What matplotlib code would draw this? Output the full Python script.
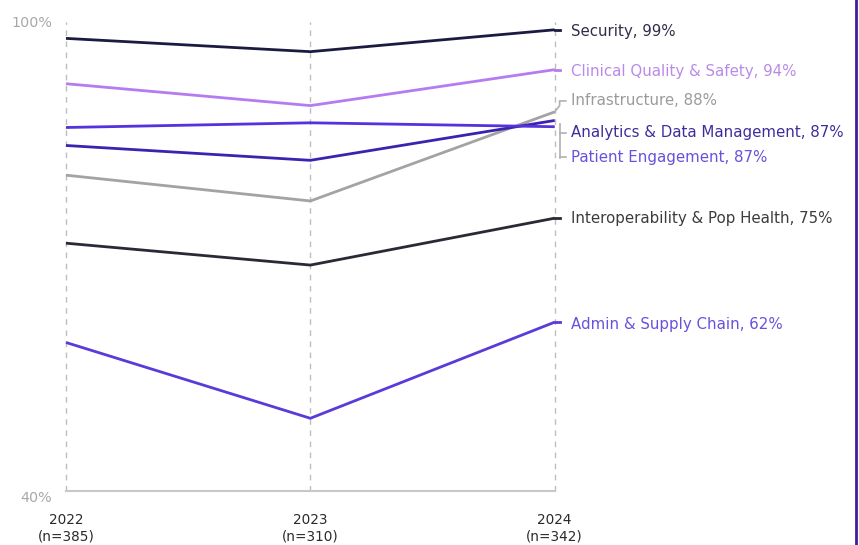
import matplotlib.pyplot as plt
from matplotlib.lines import Line2D

years = ["2022\n(n=385)", "2023\n(n=310)", "2024\n(n=342)"]
names = ["Security", "Clinical Quality & Safety", "Infrastructure",
         "Analytics & Data Management", "Patient Engagement",
         "Interoperability & Pop Health", "Admin & Supply Chain"]
security = [97.9, 96.2, 99.0]
clinical = [92.1, 89.3, 93.9]
infrastructure = [80.4, 77.1, 88.5]
analytics = [84.2, 82.3, 87.4]
patient = [86.5, 87.1, 86.6]
interop = [71.7, 68.9, 74.9]
admin = [59.0, 49.3, 61.6]
series = [security, clinical, infrastructure, analytics, patient, interop, admin]

line_colors = ["#1b1b42", "#b47cf0", "#a3a3a3", "#3b22b0", "#5432dc", "#2a2a36", "#5a3ad8"]
text_colors = ["#2e2e4a", "#b98be8", "#9b9b9b", "#3e2e9c", "#6a50dc", "#3c3c3c", "#6a50dc"]
# label heights on the right, spread apart where lines bunch up
label_y = [98.8, 93.7, 89.9, 85.8, 82.7, 74.9, 61.3]

plt.rcParams['font.family'] = ['DejaVu Sans']

fig = plt.figure(figsize=(8.59, 5.45), dpi=100)
ax = fig.add_axes([0.0768, 0.0991, 0.569, 0.8606])
x = [0, 1, 2]

for i in x:
    ax.axvline(i, color="#bdbdbd", lw=1, ls=(0, (4, 4)), zorder=1, clip_on=False)
ax.axhline(40, color="#c8c8c8", lw=1.5, zorder=1, clip_on=False)

for vals, c in zip(series, line_colors):
    ax.plot(x, vals, color=c, lw=2, zorder=3, solid_capstyle="butt", clip_on=False)

gray = "#b0b0b0"
for name, vals, ly, tc in zip(names, series, label_y, text_colors):
    ax.text(2.065, ly, f"{name}, {vals[-1]:.0f}%", color=tc, fontsize=10.8,
            va="center", ha="left", clip_on=False)

# short leaders from line ends to labels
for k in (0, 1, 5, 6):
    ax.plot([2.0, 2.02], [series[k][-1]] * 2, color=line_colors[k], lw=2, clip_on=False)
ax.plot([2.0, 2.02, 2.02, 2.045], [infrastructure[-1], 89.3, 89.9, 89.9],
        color=gray, lw=1.2, clip_on=False)
ax.plot([2.02, 2.02], [86.9, 82.6], color=gray, lw=1.2, clip_on=False)
ax.plot([2.02, 2.045], [85.8, 85.8], color=gray, lw=1.2, clip_on=False)
ax.plot([2.02, 2.045], [82.7, 82.7], color=gray, lw=1.2, clip_on=False)

ax.set_xlim(0, 2)
ax.set_ylim(40, 100)
ax.set_xticks(x)
ax.set_xticklabels(years, fontsize=9.8, color="#2a2a2a", linespacing=1.2)
ax.set_yticks([40, 100])
ax.set_yticklabels(["40%", "100%"], fontsize=10.3, color="#a8a8a8")
ax.tick_params(axis="x", length=0, pad=16)
ax.tick_params(axis="y", length=0, pad=10)
for lab in ax.get_yticklabels():
    if lab.get_text() == "40%":
        lab.set_va("top")
for s in ax.spines.values():
    s.set_visible(False)

fig.add_artist(Line2D([0.9965, 0.9965], [0, 1], color="#3a1fa0", lw=2))

fig.savefig("out.png", dpi=100, facecolor="white")
